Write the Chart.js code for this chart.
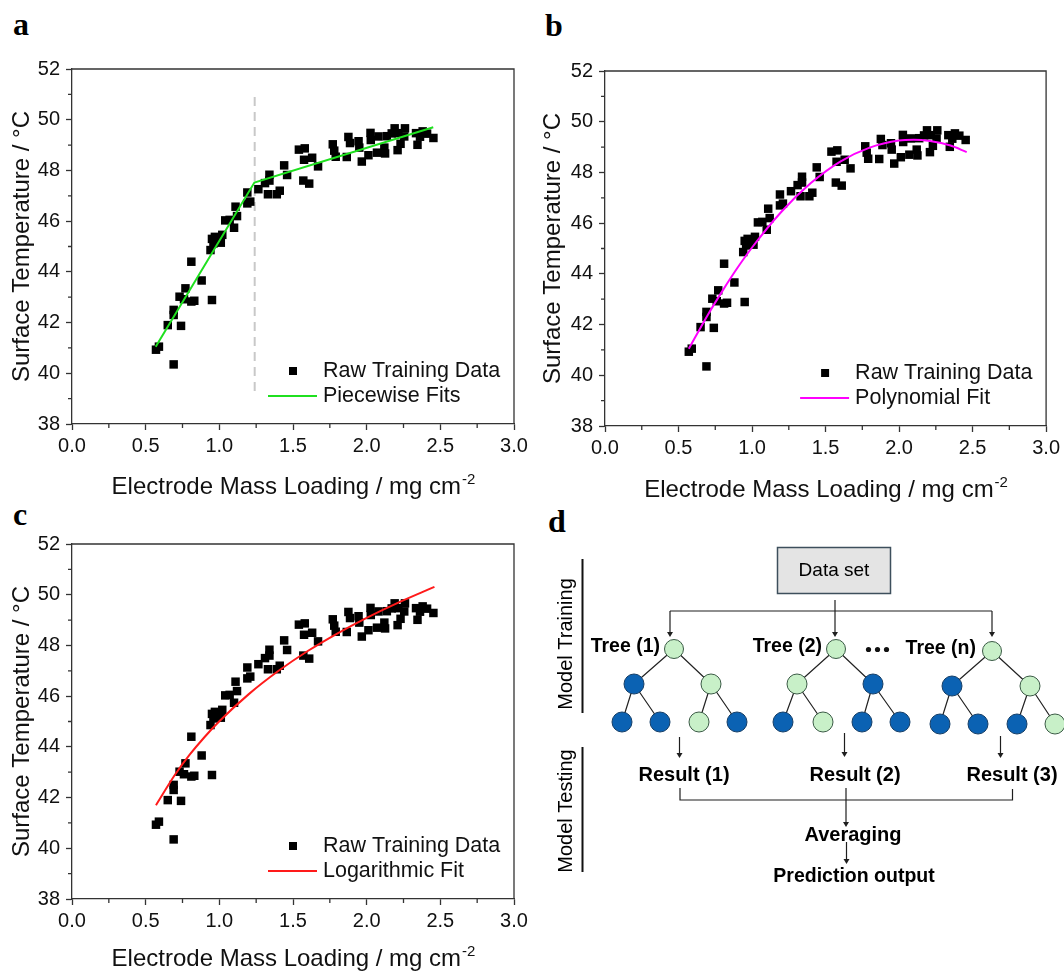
<!DOCTYPE html>
<html>
<head>
<meta charset="utf-8">
<script src="https://cdn.jsdelivr.net/npm/chart.js@4.4.1/dist/chart.umd.min.js"></script>
<style>
  html, body { margin: 0; padding: 0; background: #fff; }
  body { width: 1064px; height: 972px; position: relative; overflow: hidden; }
  canvas { position: absolute; }
  .tag { position: absolute; font: bold 32px 'Liberation Serif', 'Times New Roman', serif; line-height: 32px; color: #000; }
</style>
</head>
<body>
<div class="tag" style="left:13px;top:8px">a</div>
<div class="tag" style="left:545px;top:9px">b</div>
<div class="tag" style="left:13px;top:498px">c</div>
<div class="tag" style="left:548px;top:505px">d</div>

<canvas id="chartA" width="532" height="505" style="left:0;top:0"></canvas>
<canvas id="chartB" width="531" height="505" style="left:533px;top:2px"></canvas>
<canvas id="chartC" width="532" height="497" style="left:0;top:475px"></canvas>
<canvas id="flow" width="531" height="497" style="left:533px;top:475px"></canvas>

<script>
// ---- measured data: electrode mass loading (mg cm^-2) vs surface temperature (°C)
const massLoading = [
  0.57, 0.59, 0.69, 0.65, 0.74, 0.69, 0.69, 0.73, 0.77, 0.76,
  0.81, 0.83, 0.81, 0.88, 0.95, 0.94, 0.95, 0.97, 0.96, 1.01,
  1.02, 1.04, 1.07, 1.10, 1.12, 1.11, 1.19, 1.19, 1.21, 1.265,
  1.31, 1.33, 1.34, 1.34, 1.39, 1.41, 1.44, 1.46, 1.54, 1.58,
  1.575, 1.63, 1.57, 1.61, 1.67, 1.77, 1.78, 1.79, 1.865, 1.876,
  1.887, 1.945, 1.95, 1.967, 2.012, 2.026, 2.028, 2.07, 2.08, 2.125,
  2.12, 2.137, 2.17, 2.21, 2.19, 2.26, 2.215, 2.23, 2.255, 2.335,
  2.345, 2.362, 2.38, 2.41, 2.453
];
const surfaceTemp = [
  40.93, 41.05, 40.35, 41.90, 41.87, 42.50, 42.30, 43.02, 43.35, 42.92,
  42.83, 42.86, 44.40, 43.66, 42.89, 44.86, 45.30, 45.38, 45.12, 45.15,
  45.46, 46.03, 46.05, 45.74, 46.20, 46.57, 47.13, 46.70, 46.77, 47.26,
  47.50, 47.06, 47.83, 47.60, 47.06, 47.20, 48.20, 47.82, 48.82, 48.87,
  48.42, 48.50, 47.60, 47.48, 48.16, 49.03, 48.78, 48.54, 48.53, 49.32,
  49.08, 49.15, 48.90, 48.35, 48.60, 49.48, 49.20, 48.70, 49.34, 48.67,
  48.90, 49.35, 49.46, 48.80, 49.66, 49.66, 49.47, 49.05, 49.34, 49.47,
  49.01, 49.33, 49.54, 49.45, 49.28
];

// piecewise linear fit (two segments, break near 1.24 mg cm^-2)
const pieceX = [0.568, 1.238, 2.452];
const pieceY = [41.05, 47.52, 49.70];
// break-point marker
const breakX = [1.24, 1.24];
const breakY = [39.3, 51.0];

// polynomial fit curve
const polyX = [0.57, 0.70, 0.80, 0.90, 1.00, 1.20, 1.40, 1.60, 1.80, 2.00, 2.10, 2.20, 2.35, 2.46];
const polyY = [41.05, 42.39, 43.34, 44.23, 45.04, 46.45, 47.58, 48.43, 48.98, 49.26, 49.29, 49.25, 49.06, 48.80];

// logarithmic fit curve
const logX = [0.57, 0.70, 0.80, 0.90, 1.00, 1.20, 1.40, 1.60, 1.80, 2.00, 2.20, 2.46];
const logY = [41.70, 42.91, 43.70, 44.39, 45.01, 46.08, 46.99, 47.78, 48.47, 49.09, 49.65, 50.31];

// axis ticks
const xMajorTicks = [0, 0.5, 1.0, 1.5, 2.0, 2.5, 3.0];
const xMinorTicks = [0.25, 0.75, 1.25, 1.75, 2.25, 2.75];
const yMajorTicks = [38, 40, 42, 44, 46, 48, 50, 52];
const yMinorTicks = [39, 41, 43, 45, 47, 49, 51];

const FONT = "'Liberation Sans', Arial, Helvetica, sans-serif";
const AXIS = '#333333';
const INK = '#111111';

const pts = (xs, ys) => xs.map((v, i) => ({ x: v, y: ys[i] }));
const rawPoints = pts(massLoading, surfaceTemp);

// frame, minor ticks, axis titles and in-plot legend
const framePlugin = {
  id: 'frame',
  afterDraw(chart, args, o) {
    const { ctx, chartArea: a, scales: { x, y } } = chart;
    ctx.save();
    ctx.strokeStyle = AXIS;
    ctx.lineWidth = 1.3;
    ctx.beginPath();
    ctx.moveTo(a.left, a.top);
    ctx.lineTo(a.right, a.top);
    ctx.lineTo(a.right, a.bottom);
    ctx.stroke();

    ctx.beginPath();
    xMinorTicks.forEach(v => { const p = x.getPixelForValue(v); ctx.moveTo(p, a.bottom); ctx.lineTo(p, a.bottom + 4); });
    yMinorTicks.forEach(v => { const p = y.getPixelForValue(v); ctx.moveTo(a.left, p); ctx.lineTo(a.left - 4, p); });
    ctx.stroke();

    // x title with superscript
    ctx.fillStyle = INK;
    ctx.textBaseline = 'alphabetic';
    ctx.textAlign = 'left';
    const main = 'Electrode Mass Loading / mg cm';
    const sup = '-2';
    ctx.font = '24px ' + FONT;
    const wMain = ctx.measureText(main).width;
    ctx.font = '15px ' + FONT;
    const wSup = ctx.measureText(sup).width;
    const cx = (a.left + a.right) / 2;
    const sx = cx - (wMain + wSup) / 2;
    ctx.font = '24px ' + FONT;
    ctx.fillText(main, sx, o.xTitleY);
    ctx.font = '15px ' + FONT;
    ctx.fillText(sup, sx + wMain + 1, o.xTitleY - 10);

    // y title
    ctx.save();
    ctx.translate(o.yTitleX, (a.top + a.bottom) / 2);
    ctx.rotate(-Math.PI / 2);
    ctx.font = '24px ' + FONT;
    ctx.textAlign = 'center';
    ctx.textBaseline = 'middle';
    ctx.fillText('Surface Temperature / °C', 0, 0);
    ctx.restore();

    // legend
    const raw = chart.data.datasets.find(d => d.id === 'raw');
    const fit = chart.data.datasets.find(d => d.id === 'fit');
    const textX = a.right - 191;
    const row1 = a.bottom - 53, row2 = a.bottom - 28;
    ctx.fillStyle = raw.backgroundColor;
    ctx.fillRect(a.right - 225, row1 - 4, 8, 8);
    ctx.strokeStyle = fit.borderColor;
    ctx.lineWidth = fit.borderWidth;
    ctx.beginPath();
    ctx.moveTo(a.right - 246, row2);
    ctx.lineTo(a.right - 197, row2);
    ctx.stroke();
    ctx.fillStyle = INK;
    ctx.font = '21.5px ' + FONT;
    ctx.textAlign = 'left';
    ctx.textBaseline = 'middle';
    ctx.fillText(raw.label, textX, row1);
    ctx.fillText(fit.label, textX, row2);
    ctx.restore();
  }
};

function panel(id, fitDs, extra, o) {
  const datasets = [
    Object.assign({ id: 'fit', showLine: true, pointRadius: 0, borderWidth: 2, order: 0, fill: false }, fitDs),
    { id: 'raw', label: 'Raw Training Data', data: rawPoints, pointStyle: 'rect', pointRadius: 6,
      backgroundColor: '#000000', borderColor: '#000000', borderWidth: 0, order: 1 }
  ].concat(extra);
  const tickFont = { family: FONT, size: 20 };
  return new Chart(document.getElementById(id), {
    type: 'scatter',
    data: { datasets },
    options: {
      responsive: false,
      animation: false,
      events: [],
      layout: { padding: { top: o.top, right: o.right, left: 0, bottom: 0 } },
      plugins: { legend: { display: false }, tooltip: { enabled: false },
        frame: { xTitleY: o.xTitleY, yTitleX: o.yTitleX } },
      scales: {
        x: {
          type: 'linear', min: 0, max: 3,
          afterBuildTicks: s => { s.ticks = xMajorTicks.map(v => ({ value: v })); },
          ticks: { font: tickFont, color: INK, padding: 4, maxRotation: 0, autoSkip: false,
                   callback: v => Number(v).toFixed(1) },
          grid: { drawOnChartArea: false, tickLength: 6, tickColor: AXIS, tickWidth: 1.3 },
          border: { color: AXIS, width: 1.3 },
          afterFit: s => { s.height = o.xh; }
        },
        y: {
          type: 'linear', min: 38, max: 52,
          afterBuildTicks: s => { s.ticks = yMajorTicks.map(v => ({ value: v })); },
          ticks: { font: tickFont, color: INK, padding: 6, autoSkip: false, callback: v => String(v) },
          grid: { drawOnChartArea: false, tickLength: 6, tickColor: AXIS, tickWidth: 1.3 },
          border: { color: AXIS, width: 1.3 },
          afterFit: s => { s.width = 72; }
        }
      }
    },
    plugins: [framePlugin]
  });
}

panel('chartA',
  { label: 'Piecewise Fits', data: pts(pieceX, pieceY), borderColor: '#1fe01f', tension: 0 },
  [{ id: 'break', label: 'break', data: pts(breakX, breakY), showLine: true, pointRadius: 0,
     borderColor: '#c8c8c8', borderWidth: 2, borderDash: [9, 6], order: 2 }],
  { top: 69, right: 18, xh: 81, xTitleY: 494, yTitleX: 22 });

panel('chartB',
  { label: 'Polynomial Fit', data: pts(polyX, polyY), borderColor: '#ff00ff', tension: 0.4, cubicInterpolationMode: 'monotone' },
  [],
  { top: 69, right: 17, xh: 81, xTitleY: 495, yTitleX: 20 });

panel('chartC',
  { label: 'Logarithmic Fit', data: pts(logX, logY), borderColor: '#ff1a1a', tension: 0.4, cubicInterpolationMode: 'monotone' },
  [],
  { top: 69, right: 18, xh: 73, xTitleY: 491, yTitleX: 22 });

// ---- random-forest workflow diagram
const GREEN = '#c8f0c8', BLUE = '#0b62b3';
const trees = [
  { name: 'Tree (1)', nameRight: 660, root: [674, 649], mid: [[634, 684, 'b'], [711, 684, 'g']],
    leaves: [[622, 722, 'b'], [660, 722, 'b'], [699, 722, 'g'], [737, 722, 'b']], rootFill: 'g' },
  { name: 'Tree (2)', nameRight: 822, root: [836, 649], mid: [[797, 684, 'g'], [873, 684, 'b']],
    leaves: [[783, 722, 'b'], [823, 722, 'g'], [862, 722, 'b'], [900, 722, 'b']], rootFill: 'g' },
  { name: 'Tree (n)', nameRight: 976, root: [992, 651], mid: [[952, 686, 'b'], [1030, 686, 'g']],
    leaves: [[940, 724, 'b'], [978, 724, 'b'], [1017, 724, 'b'], [1055, 724, 'g']], rootFill: 'g' }
];
const results = [['Result (1)', 684], ['Result (2)', 855], ['Result (3)', 1012]];

(function drawFlow() {
  const c = document.getElementById('flow');
  const ctx = c.getContext('2d');
  ctx.translate(-533, -475);
  const ink = '#1e1e1e';

  function arrow(x, y0, y1) {
    ctx.strokeStyle = ink; ctx.fillStyle = ink; ctx.lineWidth = 1.2;
    ctx.beginPath(); ctx.moveTo(x, y0); ctx.lineTo(x, y1 - 4); ctx.stroke();
    ctx.beginPath(); ctx.moveTo(x - 3, y1 - 5); ctx.lineTo(x + 3, y1 - 5); ctx.lineTo(x, y1); ctx.closePath(); ctx.fill();
  }
  function node(x, y, r, kind) {
    ctx.beginPath(); ctx.arc(x, y, r, 0, Math.PI * 2);
    ctx.fillStyle = kind === 'g' ? GREEN : BLUE; ctx.fill();
    ctx.strokeStyle = kind === 'g' ? '#3a5a45' : '#163e66'; ctx.lineWidth = 1; ctx.stroke();
  }
  function text(str, x, y, font, align) {
    ctx.font = font; ctx.fillStyle = '#000'; ctx.textAlign = align || 'center'; ctx.textBaseline = 'middle';
    ctx.fillText(str, x, y);
  }

  // data set box
  ctx.fillStyle = '#e4e4e4'; ctx.fillRect(777.5, 547.5, 113, 46);
  ctx.strokeStyle = '#3d4f5c'; ctx.lineWidth = 1.5; ctx.strokeRect(777.5, 547.5, 113, 46);
  text('Data set', 834, 571, '19px ' + FONT);

  // distribution arrows
  ctx.strokeStyle = ink; ctx.lineWidth = 1.2;
  ctx.beginPath(); ctx.moveTo(670, 611); ctx.lineTo(992, 611); ctx.stroke();
  arrow(835, 600, 637);
  arrow(670, 611, 637);
  arrow(992, 611, 637);

  // trees
  trees.forEach(t => {
    ctx.strokeStyle = '#222'; ctx.lineWidth = 1.2;
    ctx.beginPath();
    t.mid.forEach(m => { ctx.moveTo(t.root[0], t.root[1]); ctx.lineTo(m[0], m[1]); });
    ctx.moveTo(t.mid[0][0], t.mid[0][1]); ctx.lineTo(t.leaves[0][0], t.leaves[0][1]);
    ctx.moveTo(t.mid[0][0], t.mid[0][1]); ctx.lineTo(t.leaves[1][0], t.leaves[1][1]);
    ctx.moveTo(t.mid[1][0], t.mid[1][1]); ctx.lineTo(t.leaves[2][0], t.leaves[2][1]);
    ctx.moveTo(t.mid[1][0], t.mid[1][1]); ctx.lineTo(t.leaves[3][0], t.leaves[3][1]);
    ctx.stroke();
    node(t.root[0], t.root[1], 9.5, t.rootFill);
    t.mid.forEach(m => node(m[0], m[1], 10, m[2]));
    t.leaves.forEach(l => node(l[0], l[1], 10, l[2]));
    text(t.name, t.nameRight, t.root[1] - 2, 'bold 19.5px ' + FONT, 'right');
  });
  // ellipsis between tree 2 and tree n
  ctx.fillStyle = '#111';
  [868.5, 877.5, 886.5].forEach(x => { ctx.beginPath(); ctx.arc(x, 649.5, 2.6, 0, Math.PI * 2); ctx.fill(); });

  // results
  arrow(679.5, 737, 758);
  arrow(844.5, 733, 757);
  arrow(1000.5, 736, 758);
  results.forEach(r => text(r[0], r[1], 775, 'bold 20px ' + FONT));

  // averaging bracket
  ctx.strokeStyle = ink; ctx.lineWidth = 1.2;
  ctx.beginPath();
  ctx.moveTo(680, 788); ctx.lineTo(680, 800); ctx.lineTo(1012.5, 800); ctx.lineTo(1012.5, 789);
  ctx.stroke();
  arrow(846, 788, 827);
  text('Averaging', 853, 835, 'bold 20px ' + FONT);
  arrow(846.5, 842, 864);
  text('Prediction output', 854, 877, 'bold 19.5px ' + FONT);

  // stage labels
  ctx.strokeStyle = '#111'; ctx.lineWidth = 2;
  ctx.beginPath();
  ctx.moveTo(582.5, 559); ctx.lineTo(582.5, 713);
  ctx.moveTo(582.5, 747); ctx.lineTo(582.5, 872);
  ctx.stroke();
  ctx.save(); ctx.translate(566, 644); ctx.rotate(-Math.PI / 2);
  text('Model Training', 0, 0, '20px ' + FONT); ctx.restore();
  ctx.save(); ctx.translate(566, 811); ctx.rotate(-Math.PI / 2);
  text('Model Testing', 0, 0, '20px ' + FONT); ctx.restore();
})();
</script>
</body>
</html>
